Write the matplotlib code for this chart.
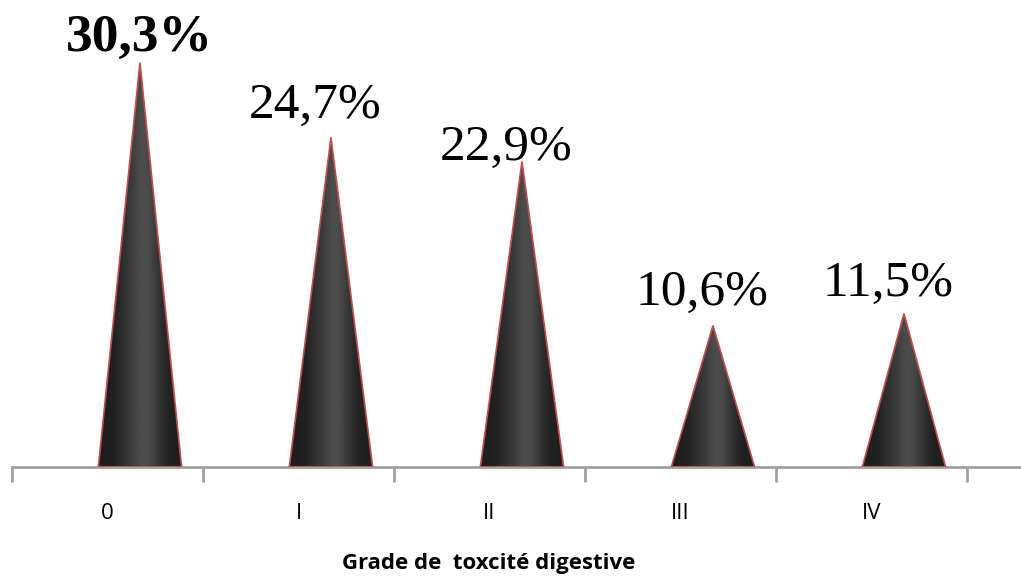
import numpy as np
import matplotlib
matplotlib.use("Agg")
import matplotlib.pyplot as plt
from matplotlib.patches import Polygon

categories = ["0", "I", "II", "III", "IV"]
values = [30.3, 24.7, 22.9, 10.6, 11.5]
value_labels = ["30,3%", "24,7%", "22,9%", "10,6%", "11,5%"]
bold_flags = [True, False, False, False, False]
x_title = "Grade de  toxcité digestive"

W, H = 1021, 578
fig = plt.figure(figsize=(W / 100, H / 100), dpi=100)
ax = fig.add_axes([12 / W, 111 / H, 1 - 12 / W, 467 / H])
ax.set_xlim(-0.5, -0.5 + (W - 12) / 191.0)
ax.set_ylim(0, 35)

offset = 0.17
half_w = 0.218
# gradient across the cone width
t = np.linspace(0, 1, 256)
shade = 0.12 + 0.18 * np.exp(-((t - 0.55) / 0.2) ** 2) + 0.03 * np.exp(-((t - 0.3) / 0.1) ** 2)
img = np.tile(shade, (2, 1))

for i, v in enumerate(values):
    cx = i + offset
    poly = Polygon([[cx - half_w, 0], [cx, v], [cx + half_w, 0]], closed=True,
                   facecolor="none", edgecolor="#c0504d", linewidth=1.2, zorder=3)
    ax.add_patch(poly)
    im = ax.imshow(img, extent=[cx - half_w, cx + half_w, 0, v], cmap="gray",
                   vmin=0, vmax=1, aspect="auto", interpolation="bilinear", zorder=2)
    im.set_clip_path(poly)

label_dx = [-0.005, -0.085, -0.085, -0.06, -0.085]
label_dy = [0.85, 1.45, 0.15, 1.55, 1.35]
for i, (v, s) in enumerate(zip(values, value_labels)):
    ax.text(i + offset + label_dx[i], v + label_dy[i], s, ha="center", va="baseline",
            fontsize=38.5 if bold_flags[i] else 37, family="Liberation Serif",
            fontweight="bold" if bold_flags[i] else "normal", color="black", zorder=4)

ax.set_xlim(-0.5, -0.5 + (W - 12) / 191.0)
ax.set_ylim(0, 35)
for sp in ["top", "right", "left"]:
    ax.spines[sp].set_visible(False)
ax.spines["bottom"].set_color("#a0a0a0")
ax.spines["bottom"].set_linewidth(2)
ax.set_yticks([])
ax.set_xticks(range(len(categories)))
ax.set_xticklabels(categories, fontsize=16, family="Open Sans")
ax.tick_params(axis="x", which="major", length=0, pad=26)
ax.set_xticks(np.arange(-0.5, len(categories)), minor=True)
ax.tick_params(axis="x", which="minor", length=11, width=2, color="#a0a0a0")
ax.set_xlabel(x_title, fontsize=16, fontweight="bold", family="Open Sans")
ax.xaxis.set_label_coords((489 - 12) / (W - 12), -(563 - 467) / 467)
ax.xaxis.label.set_va("center")

fig.savefig("out.png", dpi=100)
